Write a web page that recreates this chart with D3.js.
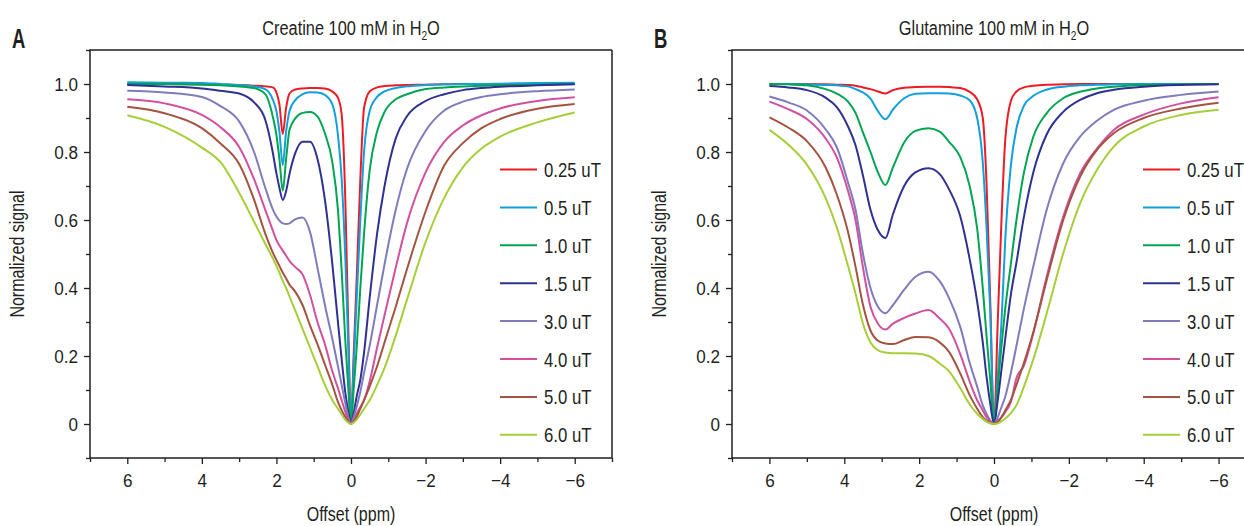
<!DOCTYPE html>
<html>
<head>
<meta charset="utf-8">
<script src="https://cdnjs.cloudflare.com/ajax/libs/d3/7.8.5/d3.min.js"></script>
<style>
  body { margin: 0; background: #fff; }
  text { font-family: "Liberation Sans", Arial, sans-serif; fill: #231f20; }
</style>
</head>
<body>
<div id="chart"></div>
<script>
// saturation field strengths (legend)
var fieldLabels = ["0.25 uT", "0.5 uT", "1.0 uT", "1.5 uT", "3.0 uT", "4.0 uT", "5.0 uT", "6.0 uT"];
var lineColors = ["#ed1c24", "#12a0dc", "#00a551", "#2e3192", "#807bbd", "#d1509f", "#a4533f", "#a6ce39"];

// panel A: creatine, offsets in ppm
var offsetsA = [6, 5, 4, 3.5, 3, 2.6, 2.3, 2.1, 2.0, 1.92,
  1.83, 1.74, 1.65, 1.5, 1.3, 1.1, 0.9, 0.7, 0.5, 0.35,
  0.25, 0.15, 0.07, 0, -0.07, -0.15, -0.25, -0.35, -0.5, -0.7,
  -0.9, -1.2, -1.5, -2, -2.5, -3, -3.5, -4, -5, -6];

var creatine_025 = [1.0, 1.0, 0.999, 0.998, 0.997, 0.995, 0.993, 0.99, 0.975, 0.94,
  0.853, 0.93, 0.972, 0.984, 0.987, 0.988, 0.988, 0.987, 0.978, 0.96,
  0.91, 0.65, 0.27, 0.0, 0.2, 0.42, 0.72, 0.93, 0.978, 0.99,
  0.994, 0.996, 0.997, 0.998, 0.999, 1.0, 1.0, 1.0, 1.0, 1.0];
var creatine_05 = [1.005, 1.004, 1.003, 1.0, 0.997, 0.993, 0.985, 0.955, 0.92, 0.86,
  0.762, 0.86, 0.92, 0.952, 0.97, 0.976, 0.975, 0.968, 0.94, 0.85,
  0.72, 0.48, 0.22, 0.0, 0.17, 0.36, 0.6, 0.8, 0.92, 0.962,
  0.978, 0.988, 0.993, 0.997, 0.999, 1.0, 1.0, 1.001, 1.003, 1.004];
var creatine_10 = [1.0, 1.0, 0.998, 0.996, 0.993, 0.988, 0.97, 0.905, 0.85, 0.78,
  0.686, 0.78, 0.865, 0.898, 0.915, 0.918, 0.905, 0.855, 0.77, 0.63,
  0.45, 0.24, 0.1, 0.0, 0.1, 0.22, 0.4, 0.56, 0.745, 0.86,
  0.918, 0.955, 0.97, 0.985, 0.99, 0.993, 0.995, 0.996, 0.998, 1.0];
var creatine_15 = [0.997, 0.993, 0.987, 0.98, 0.972, 0.946, 0.895, 0.80, 0.737, 0.695,
  0.659, 0.685, 0.735, 0.795, 0.83, 0.83, 0.78, 0.66, 0.47, 0.30,
  0.19, 0.09, 0.035, 0.0, 0.03, 0.08, 0.13, 0.21, 0.37, 0.56,
  0.70, 0.84, 0.905, 0.95, 0.97, 0.982, 0.988, 0.992, 0.996, 0.999];
var creatine_30 = [0.98, 0.975, 0.962, 0.935, 0.89, 0.80, 0.695, 0.632, 0.61, 0.598,
  0.59, 0.588, 0.59, 0.602, 0.607, 0.565, 0.46, 0.35, 0.25, 0.17,
  0.115, 0.06, 0.02, 0.0, 0.02, 0.05, 0.095, 0.15, 0.23, 0.35,
  0.47, 0.63, 0.75, 0.862, 0.922, 0.948, 0.962, 0.97, 0.979, 0.984];
var creatine_40 = [0.955, 0.943, 0.909, 0.873, 0.815, 0.72, 0.63, 0.57, 0.541, 0.525,
  0.51, 0.495, 0.48, 0.462, 0.44, 0.38, 0.30, 0.235, 0.155, 0.105,
  0.07, 0.035, 0.012, 0.0, 0.01, 0.03, 0.05, 0.07, 0.125, 0.225,
  0.32, 0.46, 0.59, 0.74, 0.83, 0.878, 0.908, 0.928, 0.95, 0.961];
var creatine_50 = [0.933, 0.914, 0.87, 0.825, 0.765, 0.66, 0.56, 0.505, 0.482, 0.465,
  0.445, 0.428, 0.41, 0.39, 0.35, 0.29, 0.235, 0.175, 0.115, 0.065,
  0.04, 0.02, 0.007, 0.0, 0.007, 0.02, 0.045, 0.07, 0.11, 0.17,
  0.24, 0.345, 0.455, 0.625, 0.76, 0.826, 0.87, 0.897, 0.927, 0.941];
var creatine_60 = [0.908, 0.874, 0.813, 0.77, 0.68, 0.595, 0.53, 0.488, 0.465, 0.445,
  0.42, 0.40, 0.375, 0.335, 0.28, 0.225, 0.17, 0.115, 0.07, 0.045,
  0.028, 0.012, 0.004, 0.0, 0.004, 0.012, 0.028, 0.045, 0.07, 0.115,
  0.165, 0.26, 0.365, 0.535, 0.665, 0.755, 0.81, 0.845, 0.887, 0.916];

// panel B: glutamine
var offsetsB = [6, 5.5, 5, 4.5, 4.2, 3.9, 3.7, 3.5, 3.3, 3.1,
  2.9, 2.7, 2.4, 2.1, 1.75, 1.45, 1.2, 0.9, 0.65, 0.45,
  0.3, 0.2, 0.1, 0, -0.1, -0.2, -0.3, -0.45, -0.6, -0.8,
  -1.05, -1.4, -1.85, -2.3, -2.75, -3.2, -4, -5, -6];

var glutamine_025 = [1.0, 1.0, 1.0, 0.999, 0.998, 0.997, 0.995, 0.99, 0.985, 0.978,
  0.972, 0.982, 0.989, 0.991, 0.992, 0.992, 0.991, 0.988, 0.977, 0.955,
  0.90, 0.71, 0.36, 0.0, 0.30, 0.60, 0.835, 0.95, 0.978, 0.99,
  0.995, 0.998, 0.999, 1.0, 1.0, 1.0, 1.0, 1.0, 1.0];
var glutamine_05 = [1.0, 1.0, 0.999, 0.997, 0.996, 0.993, 0.985, 0.975, 0.957, 0.92,
  0.896, 0.925, 0.958, 0.971, 0.973, 0.973, 0.972, 0.966, 0.952, 0.90,
  0.77, 0.58, 0.33, 0.0, 0.14, 0.30, 0.54, 0.76, 0.87, 0.936,
  0.965, 0.983, 0.992, 0.996, 0.998, 0.999, 1.0, 1.0, 1.0];
var glutamine_10 = [1.0, 0.999, 0.996, 0.985, 0.972, 0.948, 0.915, 0.857, 0.80, 0.74,
  0.703, 0.755, 0.828, 0.862, 0.87, 0.86, 0.83, 0.785, 0.70, 0.575,
  0.40, 0.26, 0.13, 0.0, 0.11, 0.23, 0.34, 0.47, 0.60, 0.74,
  0.845, 0.913, 0.958, 0.977, 0.987, 0.992, 0.997, 0.999, 1.0];
var glutamine_15 = [0.994, 0.99, 0.982, 0.96, 0.932, 0.875, 0.82, 0.73, 0.63, 0.57,
  0.547, 0.617, 0.70, 0.74, 0.752, 0.735, 0.69, 0.61, 0.485, 0.36,
  0.24, 0.14, 0.06, 0.0, 0.07, 0.16, 0.25, 0.38, 0.475, 0.61,
  0.74, 0.85, 0.918, 0.953, 0.973, 0.983, 0.992, 0.997, 0.999];
var glutamine_30 = [0.963, 0.946, 0.922, 0.867, 0.814, 0.71, 0.63, 0.50, 0.40, 0.345,
  0.326, 0.35, 0.395, 0.433, 0.448, 0.42, 0.37, 0.285, 0.18, 0.11,
  0.055, 0.03, 0.01, 0.0, 0.02, 0.05, 0.08, 0.15, 0.23, 0.34,
  0.463, 0.627, 0.767, 0.845, 0.892, 0.924, 0.951, 0.968, 0.978];
var glutamine_40 = [0.948, 0.926, 0.897, 0.84, 0.784, 0.685, 0.60, 0.46, 0.345, 0.295,
  0.278, 0.295, 0.312, 0.325, 0.335, 0.31, 0.28, 0.205, 0.125, 0.07,
  0.04, 0.02, 0.008, 0.0, 0.01, 0.02, 0.035, 0.065, 0.135, 0.172,
  0.267, 0.43, 0.61, 0.737, 0.81, 0.865, 0.91, 0.943, 0.961];
var glutamine_50 = [0.902, 0.872, 0.832, 0.755, 0.675, 0.565, 0.463, 0.35, 0.275, 0.245,
  0.237, 0.235, 0.247, 0.256, 0.255, 0.24, 0.212, 0.148, 0.085, 0.045,
  0.02, 0.01, 0.003, 0.0, 0.005, 0.02, 0.04, 0.07, 0.115, 0.18,
  0.27, 0.42, 0.60, 0.727, 0.806, 0.855, 0.90, 0.928, 0.945];
var glutamine_60 = [0.865, 0.822, 0.763, 0.665, 0.578, 0.465, 0.384, 0.295, 0.24, 0.217,
  0.21, 0.208, 0.208, 0.207, 0.20, 0.178, 0.155, 0.105, 0.058, 0.03,
  0.015, 0.007, 0.002, 0.0, 0.002, 0.008, 0.016, 0.032, 0.055, 0.11,
  0.19, 0.322, 0.502, 0.649, 0.747, 0.816, 0.875, 0.909, 0.924];

var xMajor = [6, 4, 2, 0, -2, -4, -6];
var xMinor = [7, 5, 3, 1, -1, -3, -5, -7];
var yMajor = [0, 0.2, 0.4, 0.6, 0.8, 1.0];
var yMinor = [-0.1, 0.1, 0.3, 0.5, 0.7, 0.9, 1.1];

var svgWidth = 1244;
var svgHeight = 526;
var plotTop = 50;
var plotBottom = 458;
var ink = "#231f20";

var svg = d3.select("#chart")
  .append("svg")
  .attr("width", svgWidth)
  .attr("height", svgHeight);

function fmtX(d) {
  return d < 0 ? "\u2212" + Math.abs(d) : String(d);
}
function fmtY(d) {
  return d === 0 ? "0" : d3.format(".1f")(d);
}

// original type is a condensed face, so squeeze text horizontally
function narrowText(parent, x, y, sx, size, txt, anchor) {
  return parent.append("text")
    .attr("transform", `translate(${x}, ${y}) scale(${sx}, 1)`)
    .attr("text-anchor", anchor || "start")
    .style("font-size", size + "px")
    .text(txt);
}

function styleAxis(g) {
  g.attr("font-family", null).attr("font-size", null);
  g.selectAll("path.domain").remove();
  g.selectAll("line").attr("stroke", ink).attr("stroke-width", 1.3);
  g.selectAll(".tick text")
    .style("font-size", "19px")
    .each(function() {
      var t = d3.select(this);
      var x0 = +t.attr("x") || 0;
      t.attr("x", x0 / 0.9).attr("transform", "scale(0.9, 1)");
    });
}

function drawPanel(p) {
  var x = d3.scaleLinear().domain([7, -7]).range([p.left, p.right]);
  var y = d3.scaleLinear().domain([-0.1, 1.1]).range([plotBottom, plotTop]);

  var g = svg.append("g");

  // frame: left, bottom, top, right
  g.append("path")
    .attr("d", `M${p.right},${plotTop}H${p.left}V${plotBottom}H${p.right}V${plotTop}`)
    .attr("fill", "none")
    .attr("stroke", ink)
    .attr("stroke-width", 1.5);

  // x axis
  g.append("g")
    .attr("transform", `translate(0, ${plotBottom})`)
    .call(d3.axisBottom(x).tickValues(xMajor).tickFormat(fmtX).tickSize(6).tickSizeOuter(0).tickPadding(10))
    .call(styleAxis);
  g.append("g")
    .attr("transform", `translate(0, ${plotBottom})`)
    .call(d3.axisBottom(x).tickValues(xMinor).tickFormat("").tickSize(4).tickSizeOuter(0))
    .call(styleAxis);

  // y axis
  g.append("g")
    .attr("transform", `translate(${p.left}, 0)`)
    .call(d3.axisLeft(y).tickValues(yMajor).tickFormat(fmtY).tickSize(6).tickSizeOuter(0).tickPadding(6))
    .call(styleAxis);
  g.append("g")
    .attr("transform", `translate(${p.left}, 0)`)
    .call(d3.axisLeft(y).tickValues(yMinor).tickFormat("").tickSize(4).tickSizeOuter(0))
    .call(styleAxis);

  // curves
  var line = d3.line()
    .x(d => x(d[0]))
    .y(d => y(d[1]))
    .curve(d3.curveMonotoneX);

  p.series.forEach(function(vals, i) {
    var pts = p.offsets.map((o, j) => [o, vals[j]]);
    g.append("path")
      .datum(pts)
      .attr("d", line)
      .attr("fill", "none")
      .attr("stroke", lineColors[i])
      .attr("stroke-width", 2);
  });

  // legend
  var legend = g.append("g");
  fieldLabels.forEach(function(lbl, i) {
    var ly = 169.5 + i * 37.9;
    legend.append("line")
      .attr("x1", p.legendX).attr("x2", p.legendX + 37)
      .attr("y1", ly).attr("y2", ly)
      .attr("stroke", lineColors[i])
      .attr("stroke-width", 2);
    narrowText(legend, p.legendX + 44, ly + 7.5, 0.84, 20, lbl);
  });

  // title with subscript
  var title = narrowText(g, x(0), 35, 0.78, 21, null, "middle");
  title.append("tspan").text(p.compound + " 100 mM in H");
  title.append("tspan").attr("dy", 5).style("font-size", "13px").text("2");
  title.append("tspan").attr("dy", -5).text("O");

  // panel letter
  narrowText(g, p.letterX, 48, 0.66, 28, p.letter).style("font-weight", "bold");

  // axis labels
  narrowText(g, x(0), 521, 0.8, 20, "Offset (ppm)", "middle");

  g.append("text")
    .attr("transform", `translate(${p.left - 66}, 254) rotate(-90) scale(0.8, 1)`)
    .attr("text-anchor", "middle")
    .style("font-size", "20px")
    .text("Normalized signal");
}

drawPanel({
  left: 90, right: 612, legendX: 500, letter: "A", letterX: 12, compound: "Creatine",
  offsets: offsetsA,
  series: [creatine_025, creatine_05, creatine_10, creatine_15, creatine_30, creatine_40, creatine_50, creatine_60]
});

drawPanel({
  left: 732, right: 1256, legendX: 1143, letter: "B", letterX: 654, compound: "Glutamine",
  offsets: offsetsB,
  series: [glutamine_025, glutamine_05, glutamine_10, glutamine_15, glutamine_30, glutamine_40, glutamine_50, glutamine_60]
});
</script>
</body>
</html>
